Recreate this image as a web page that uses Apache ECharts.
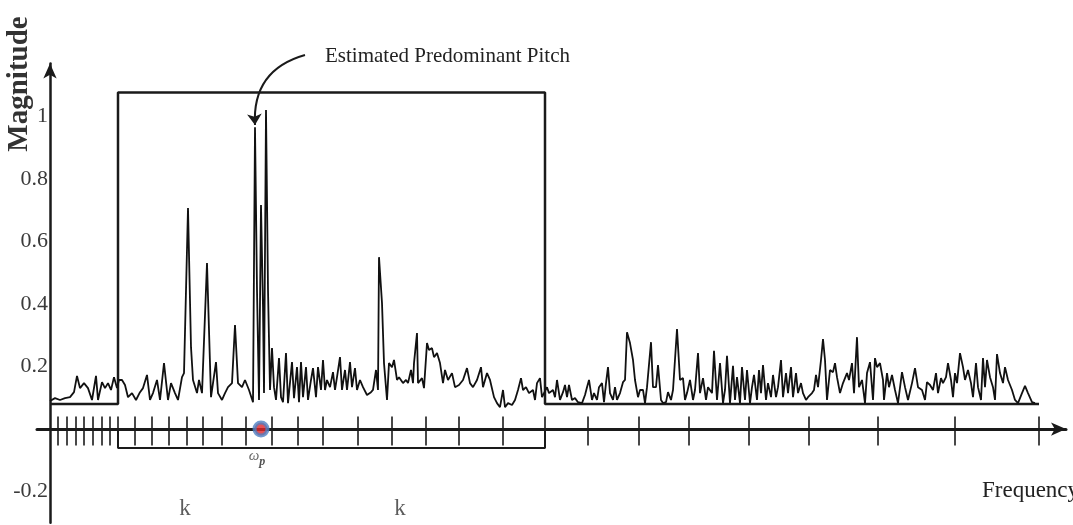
<!DOCTYPE html>
<html>
<head>
<meta charset="utf-8">
<script src="https://cdn.jsdelivr.net/npm/echarts@6.0.0/dist/echarts.min.js"></script>
<style>
  html, body { margin: 0; padding: 0; background: #fff; }
  #chart { width: 1073px; height: 525px; }
</style>
</head>
<body>
<div id="chart"></div>
<script>
  // frequency bins of the tick marks on the horizontal axis
  var freqTicks = [8, 17, 26, 34, 43, 52, 60, 68, 85, 102, 119, 137, 153, 172, 196, 222,
    248, 273, 308, 342, 376, 409, 453, 495, 538, 589, 639, 699, 759, 828, 905, 989];

  // rectangular window (k bins wide) laid over the spectrum
  var windowFrame = [[0, 0.08], [68, 0.08], [68, 1.077], [495, 1.077], [495, 0.08], [989, 0.08]];
  var kBracket = [[68, 0], [68, -0.061], [495, -0.061], [495, 0]];
  var pitchBin = [[211, 0]];
  var kLabelPos = [[135, -0.25], [350, -0.25]];
  var omegaLabelPos = [[207, -0.085]];
  var pitchArrow = [[255, 1.197], [205, 0.973]];

  // spectrum magnitude, read piece by piece
  var spectrumLow = [
    [0, 0.090], [5, 0.099], [10, 0.093], [15, 0.099], [20, 0.102], [24, 0.118], [27, 0.170], [30, 0.131],
    [34, 0.147], [38, 0.131], [42, 0.093], [46, 0.170], [48, 0.093], [52, 0.150], [55, 0.131], [58, 0.147],
    [61, 0.125], [64, 0.166], [67, 0.131], [69, 0.157], [72, 0.157], [75, 0.141], [78, 0.102], [82, 0.115],
    [86, 0.093], [90, 0.118], [93, 0.131], [97, 0.173], [100, 0.093], [103, 0.115], [107, 0.157], [110, 0.093],
    [114, 0.211], [118, 0.093], [121, 0.147], [125, 0.115], [128, 0.093], [132, 0.166], [134, 0.179], [138, 0.707],
    [141, 0.262], [143, 0.157], [147, 0.115], [149, 0.157], [152, 0.115], [157, 0.531], [161, 0.102], [163, 0.102],
    [166, 0.214], [168, 0.115], [172, 0.093], [175, 0.115], [178, 0.134], [182, 0.147], [185, 0.333], [188, 0.147],
    [192, 0.134], [195, 0.157]
  ];
  var spectrumPitch = [
    [197, 0.163], [199, 0.125], [203, 0.086], [205, 0.966], [207, 0.445], [209, 0.093], [211, 0.717], [213, 0.390],
    [214, 0.115], [216, 1.021], [218, 0.445], [220, 0.125], [222, 0.259], [224, 0.134], [226, 0.093], [229, 0.227],
    [231, 0.102], [233, 0.086], [236, 0.243], [238, 0.083], [242, 0.214], [244, 0.099], [247, 0.198], [249, 0.086],
    [251, 0.214], [253, 0.102], [256, 0.198], [258, 0.093], [261, 0.157], [263, 0.195], [266, 0.102], [268, 0.198],
    [271, 0.125], [273, 0.221], [275, 0.125], [277, 0.157], [280, 0.134], [283, 0.182], [285, 0.125], [287, 0.166],
    [290, 0.230], [292, 0.125], [295, 0.189], [297, 0.125], [300, 0.214], [302, 0.134], [305, 0.195], [307, 0.125],
    [310, 0.157], [313, 0.134], [317, 0.109], [321, 0.118], [323, 0.125], [326, 0.189], [328, 0.125], [329, 0.550],
    [332, 0.403], [334, 0.211], [337, 0.093], [339, 0.211], [342, 0.198], [344, 0.221], [347, 0.157], [349, 0.166],
    [353, 0.147], [356, 0.157], [358, 0.147], [361, 0.189], [363, 0.147], [364, 0.211], [367, 0.307], [368, 0.147],
    [372, 0.163], [374, 0.131], [377, 0.275], [379, 0.253], [382, 0.259], [384, 0.230], [387, 0.243], [390, 0.211]
  ];
  var spectrumMid = [
    [393, 0.147], [395, 0.189], [398, 0.157], [402, 0.179], [405, 0.134], [409, 0.141], [413, 0.157], [417, 0.195],
    [420, 0.147], [423, 0.134], [427, 0.157], [431, 0.198], [433, 0.134], [437, 0.179], [440, 0.157], [444, 0.102],
    [447, 0.083], [450, 0.070], [453, 0.125], [455, 0.070], [458, 0.083], [462, 0.077], [465, 0.093], [468, 0.125],
    [471, 0.163], [473, 0.125], [476, 0.134], [479, 0.115], [483, 0.125], [485, 0.093], [487, 0.147], [490, 0.163],
    [492, 0.102], [494, 0.115], [497, 0.134], [499, 0.115], [503, 0.125], [505, 0.102], [507, 0.157], [510, 0.093],
    [513, 0.118], [515, 0.141], [517, 0.102], [519, 0.141], [522, 0.093], [525, 0.099], [528, 0.086], [532, 0.083],
    [535, 0.109], [537, 0.134], [539, 0.157], [542, 0.093], [544, 0.115], [547, 0.093], [549, 0.134], [552, 0.147],
    [554, 0.086], [556, 0.147], [558, 0.198], [560, 0.115], [563, 0.093], [565, 0.134], [567, 0.093], [570, 0.115],
    [573, 0.150], [575, 0.157], [577, 0.310], [580, 0.275], [583, 0.221], [585, 0.157], [588, 0.102], [590, 0.125]
  ];
  var spectrumHigh = [
    [593, 0.125], [595, 0.083], [597, 0.134], [601, 0.278], [603, 0.134], [606, 0.134], [608, 0.205], [611, 0.093],
    [613, 0.083], [616, 0.086], [618, 0.118], [621, 0.093], [623, 0.125], [627, 0.320], [630, 0.157], [633, 0.163],
    [635, 0.093], [637, 0.115], [640, 0.157], [643, 0.093], [645, 0.125], [648, 0.243], [650, 0.115], [653, 0.163],
    [656, 0.093], [658, 0.134], [662, 0.115], [664, 0.250], [667, 0.093], [670, 0.211], [673, 0.083], [675, 0.125],
    [677, 0.234], [680, 0.083], [683, 0.202], [685, 0.093], [687, 0.166], [690, 0.083], [692, 0.198], [695, 0.093],
    [697, 0.189], [700, 0.083], [702, 0.134], [704, 0.173], [707, 0.093], [709, 0.189], [711, 0.115], [713, 0.205],
    [716, 0.093], [718, 0.147], [721, 0.102], [723, 0.173], [726, 0.102], [728, 0.134], [731, 0.221], [733, 0.102],
    [736, 0.179], [738, 0.115], [741, 0.198], [743, 0.102], [746, 0.179], [748, 0.115], [751, 0.147], [753, 0.115],
    [756, 0.093], [758, 0.102], [762, 0.115], [764, 0.125], [766, 0.173], [768, 0.134], [771, 0.221], [773, 0.288],
    [775, 0.221], [777, 0.093], [780, 0.189], [783, 0.182], [785, 0.211], [787, 0.166], [790, 0.115]
  ];
  var spectrumTop = [
    [793, 0.147], [797, 0.179], [799, 0.157], [802, 0.211], [804, 0.115], [807, 0.294], [809, 0.134], [812, 0.157],
    [815, 0.083], [817, 0.179], [820, 0.214], [823, 0.093], [825, 0.227], [827, 0.198], [830, 0.211], [833, 0.157],
    [834, 0.093], [837, 0.179], [839, 0.134], [842, 0.173], [845, 0.125], [848, 0.083], [852, 0.182], [855, 0.134],
    [858, 0.093], [862, 0.147], [865, 0.195], [868, 0.134], [872, 0.125], [875, 0.093], [877, 0.150], [880, 0.141],
    [883, 0.125], [886, 0.179], [888, 0.115], [891, 0.163], [893, 0.147], [896, 0.166], [898, 0.211], [901, 0.157],
    [903, 0.102], [905, 0.179], [907, 0.147], [910, 0.243], [913, 0.198], [915, 0.157], [918, 0.189], [921, 0.147],
    [923, 0.102], [926, 0.211], [928, 0.134], [931, 0.093], [933, 0.227], [935, 0.134], [937, 0.221], [940, 0.166],
    [943, 0.134], [945, 0.093], [947, 0.240], [950, 0.179], [953, 0.147], [955, 0.198], [958, 0.157], [962, 0.125],
    [965, 0.093], [968, 0.083], [972, 0.115], [975, 0.138], [978, 0.115], [982, 0.086], [985, 0.083]
  ];

  var spectrum = spectrumLow.concat(spectrumPitch, spectrumMid, spectrumHigh, spectrumTop);

  var serif = "'Liberation Serif', 'DejaVu Serif', serif";
  var ink = '#1a1a1a';

  var chart = echarts.init(document.getElementById('chart'));
  chart.setOption({
    animation: false,
    backgroundColor: '#fff',
    grid: { left: 37, right: 7, top: 63.4, bottom: 2.2 },
    xAxis: {
      type: 'value',
      min: -13,
      max: 1016,
      axisLine: {
        onZero: true,
        symbol: ['none', 'arrow'],
        symbolSize: [10, 15],
        lineStyle: { color: ink, width: 3 }
      },
      axisTick: { show: false },
      axisLabel: { show: false },
      splitLine: { show: false }
    },
    yAxis: {
      type: 'value',
      min: -0.3,
      max: 1.17,
      interval: 0.1,
      axisLine: {
        show: true,
        onZero: true,
        symbol: ['none', 'arrow'],
        symbolSize: [10, 15],
        lineStyle: { color: ink, width: 2.5 }
      },
      axisTick: { show: false },
      splitLine: { show: false },
      axisLabel: {
        showMaxLabel: false,
        margin: -11,
        color: '#3a3a3a',
        fontFamily: serif,
        fontSize: 22,
        formatter: function (v) {
          var r = Math.round(v * 10);
          if (r === 0 || r % 2 !== 0 || r > 10) return '';
          return String(r / 10);
        }
      }
    },
    graphic: [
      {
        type: 'text',
        x: 20, y: 84,
        rotation: Math.PI / 2,
        style: {
          text: 'Magnitude',
          fontFamily: serif, fontSize: 29, fontWeight: 'bold',
          fill: '#333', align: 'center', verticalAlign: 'middle'
        }
      },
      {
        type: 'text',
        left: 982, top: 479,
        style: { text: 'Frequency', fontFamily: serif, fontSize: 23, fill: '#222' }
      },
      {
        type: 'text',
        left: 325, top: 46,
        style: { text: 'Estimated Predominant Pitch', fontFamily: serif, fontSize: 21, fill: '#222' }
      }
    ],
    series: [
      {
        name: 'window',
        type: 'line',
        data: windowFrame,
        showSymbol: false,
        lineStyle: { color: ink, width: 2.5 },
        z: 2
      },
      {
        name: 'bracket',
        type: 'line',
        data: kBracket,
        showSymbol: false,
        lineStyle: { color: ink, width: 2 },
        z: 2
      },
      {
        name: 'spectrum',
        type: 'line',
        data: spectrum,
        showSymbol: false,
        lineStyle: { color: '#111', width: 1.8 },
        z: 3
      },
      {
        name: 'ticks',
        type: 'scatter',
        data: freqTicks.map(function (t) { return [t, 0]; }),
        symbol: 'rect',
        symbolSize: [2, 29],
        symbolOffset: [0, 2],
        itemStyle: { color: ink },
        z: 4
      },
      {
        name: 'pitch',
        type: 'scatter',
        data: pitchBin,
        symbolSize: 13,
        itemStyle: { color: '#e0262b', borderColor: '#4f7fc2', borderWidth: 4 },
        z: 6
      },
      {
        name: 'labels',
        type: 'scatter',
        data: kLabelPos,
        symbolSize: 0,
        label: {
          show: true, position: 'inside', formatter: 'k',
          fontFamily: serif, fontSize: 23, color: '#333',
          offset: [0, 2]
        }
      },
      {
        name: 'omega',
        type: 'scatter',
        data: omegaLabelPos,
        symbolSize: 0,
        label: {
          show: true, position: 'inside',
          formatter: '{w|ω}{p|p}',
          rich: {
            w: { fontFamily: serif, fontSize: 15, fontStyle: 'italic', color: '#444' },
            p: { fontFamily: serif, fontSize: 12, fontStyle: 'italic', fontWeight: 'bold', color: '#222', padding: [12, 0, 0, 0] }
          }
        }
      },
      {
        name: 'arrow',
        type: 'lines',
        coordinateSystem: 'cartesian2d',
        clip: false,
        symbol: ['none', 'arrow'],
        symbolSize: 11,
        lineStyle: { color: ink, width: 2, curveness: -0.4, opacity: 1 },
        data: [{ coords: pitchArrow }],
        z: 5
      }
    ]
  });
  window.addEventListener('resize', chart.resize);
</script>
</body>
</html>
